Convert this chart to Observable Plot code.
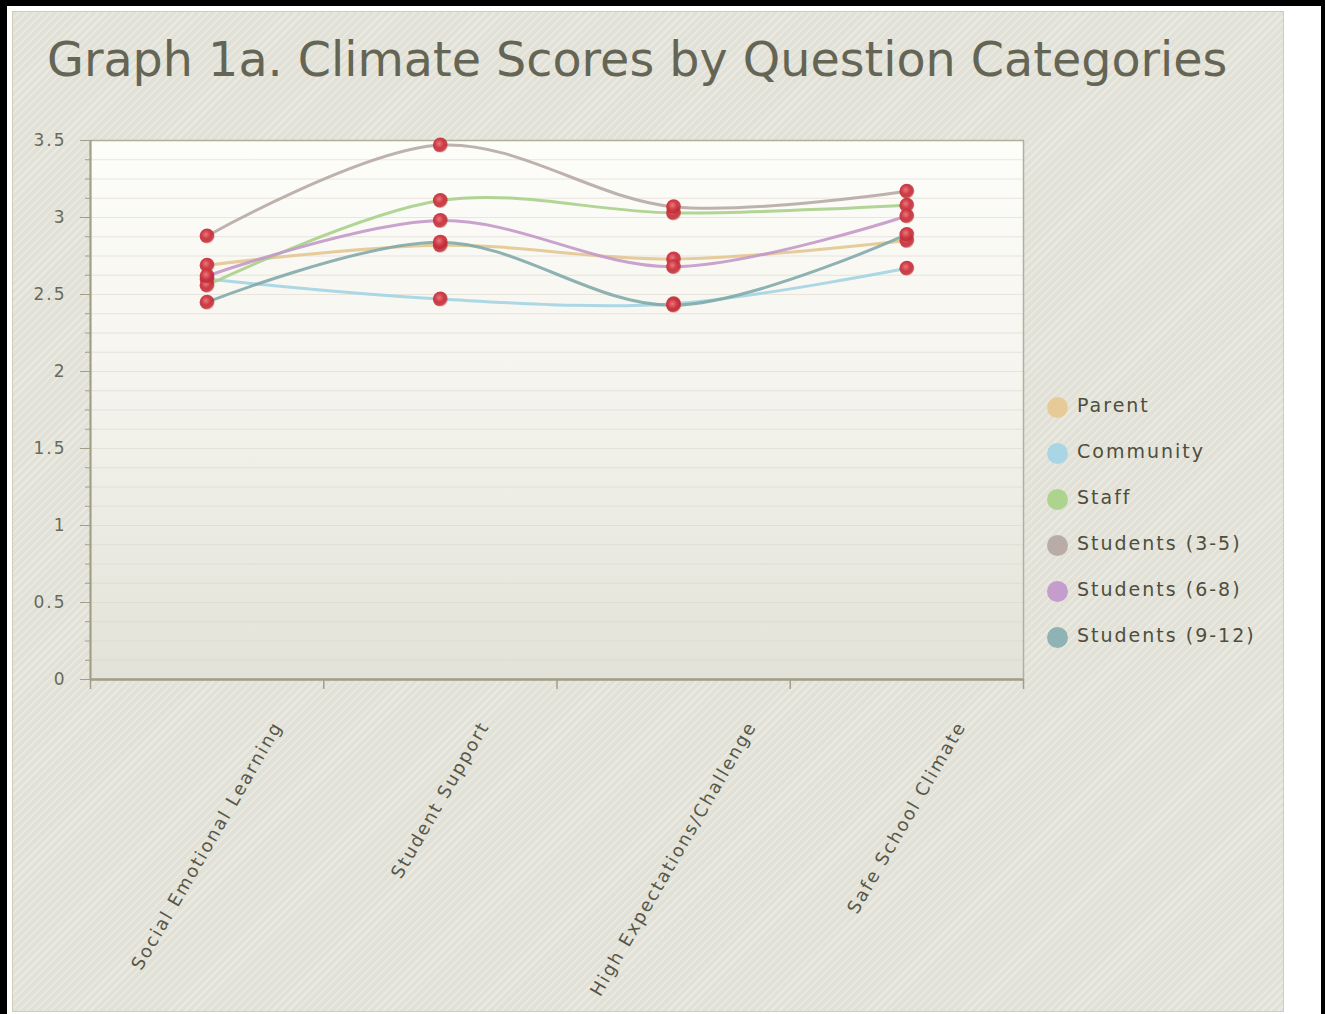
<!DOCTYPE html>
<html><head><meta charset="utf-8">
<script src="https://cdn.jsdelivr.net/npm/d3@7"></script>
<script src="https://cdn.jsdelivr.net/npm/@observablehq/plot@0.6"></script>
<style>
html,body{margin:0;padding:0;background:#fff;}
#page{position:relative;width:1325px;height:1014px;overflow:hidden;background:#fff;font-family:"DejaVu Sans",Verdana,sans-serif;}
.bk{position:absolute;background:#000;}
#panel{position:absolute;left:12px;top:11px;width:1270px;height:999px;border:1px solid #cfcdb8;background-color:#e1e1d7;
  background-image:repeating-linear-gradient(135deg,#e1e1d7 0px,#e1e1d7 4px,#eaeae2 4px,#eaeae2 5.6px);}
#title{position:absolute;left:47px;top:36px;font-size:47.6px;line-height:48px;color:#656555;white-space:nowrap;}
#chart{position:absolute;left:12px;top:100px;}
#legend{position:absolute;left:1046px;top:397px;}
.li{position:absolute;left:0;height:22px;white-space:nowrap;}
.sw{position:absolute;left:1px;top:0;width:21px;height:21px;border-radius:50%;}
.lt{position:absolute;left:31px;top:-1px;font-size:19px;line-height:19px;letter-spacing:2px;color:#4e4e3e;}
</style></head>
<body>
<div id="page">
  <div class="bk" style="left:0;top:0;width:1325px;height:6px"></div>
  <div class="bk" style="left:0;top:0;width:7px;height:1014px"></div>
  <div class="bk" style="left:1321px;top:0;width:4px;height:1014px"></div>
  <div id="panel"></div>
  <div id="title">Graph 1a. Climate Scores by Question Categories</div>
  <div id="chart"></div>
  <div id="legend"></div>
</div>
<script>
const categories = ["Social Emotional Learning", "Student Support", "High Expectations/Challenge", "Safe School Climate"];
const seriesNames = ["Parent", "Community", "Staff", "Students (3-5)", "Students (6-8)", "Students (9-12)"];
const parent      = [2.69, 2.82, 2.73, 2.85];
const community   = [2.60, 2.47, 2.44, 2.67];
const staff       = [2.56, 3.11, 3.03, 3.08];
const students35  = [2.88, 3.47, 3.07, 3.17];
const students68  = [2.62, 2.98, 2.68, 3.01];
const students912 = [2.45, 2.84, 2.43, 2.89];
const lineColors   = ["#e2c690", "#a3d3e3", "#a7d08a", "#b7aaa5", "#c398c9", "#82a9aa"];
const legendColors = ["#e6cb98", "#a9d5e5", "#acd48f", "#b9aca7", "#c59dcd", "#8fb2b4"];
const yTicks = [0, 0.5, 1, 1.5, 2, 2.5, 3, 3.5];

const seriesValues = [parent, community, staff, students35, students68, students912];
const rows = [];
seriesNames.forEach((s, si) => seriesValues[si].forEach((v, ci) => rows.push({series: s, xi: ci, value: v})));
const minorTicks = d3.range(0, 3.5001, 0.125);
const boundaries = d3.range(-0.5, categories.length, 1);

// measure labels for rotated placement
const cv = document.createElement("canvas").getContext("2d");
cv.font = "18px 'DejaVu Sans'";
const labelMarks = categories.map((c, i) => {
  const w = cv.measureText(c).width + 2 * c.length;
  const dy = 39 + (w / 2) * Math.sin(Math.PI / 3) + 9 * 0.5;
  return Plot.text([i], {x: d => d, text: d => categories[d], frameAnchor: "bottom", rotate: -60,
    textAnchor: "middle", lineAnchor: "middle", dy, fontSize: 18, fill: "#58584a"});
});

const svg = Plot.plot({
  width: 1030, height: 914,
  marginLeft: 78, marginRight: 19, marginTop: 40, marginBottom: 335,
  x: {type: "linear", domain: [-0.5, categories.length - 0.5], axis: null, label: null},
  y: {domain: [0, 3.5], axis: null, label: null},
  color: {domain: seriesNames, range: lineColors},
  style: {background: "transparent", fontFamily: "'DejaVu Sans', sans-serif", overflow: "visible", letterSpacing: "2px"},
  marks: [
    Plot.frame({fill: "url(#plotBg)", stroke: "none"}),
    Plot.gridY(minorTicks, {stroke: "#d9d6c8", strokeOpacity: 0.55, strokeWidth: 1}),
    Plot.frame({stroke: "#b3b09a", strokeWidth: 1.5}),
    Plot.axisY(minorTicks, {tickSize: 5, tickFormat: () => "", label: null, stroke: "#a29f88"}),
    Plot.axisY(yTicks, {tickSize: 10, tickPadding: 14, fontSize: 17, fill: "#6a6a5a", stroke: "#a29f88", label: null, tickFormat: d => String(d)}),
    Plot.ruleY([0], {stroke: "#a29f88", strokeWidth: 2.5}),
    Plot.ruleX([-0.5], {stroke: "#a29f88", strokeWidth: 2}),
    Plot.axisX(boundaries, {tickSize: 10, tickFormat: () => "", label: null, stroke: "#a29f88", strokeWidth: 1.5}),
    Plot.line(rows, {x: "xi", y: "value", z: "series", stroke: "series", curve: "catmull-rom", strokeWidth: 3, strokeOpacity: 0.9}),
    Plot.dot(rows, {x: "xi", y: "value", r: 7.5, fill: "url(#ball)", stroke: "none"}),
    ...labelMarks
  ]
});
svg.insertAdjacentHTML("afterbegin",
  `<defs>
    <linearGradient id="plotBg" x1="0" y1="0" x2="0" y2="1">
      <stop offset="0" stop-color="#fdfdfa"/>
      <stop offset="0.4" stop-color="#f6f5ef"/>
      <stop offset="1" stop-color="#e3e2d8"/>
    </linearGradient>
    <radialGradient id="ball" cx="0.42" cy="0.4" r="0.6">
      <stop offset="0" stop-color="#e8787e"/>
      <stop offset="0.5" stop-color="#cf3a44"/>
      <stop offset="0.85" stop-color="#bd2a33" stop-opacity="0.85"/>
      <stop offset="1" stop-color="#c4353d" stop-opacity="0.35"/>
    </radialGradient>
  </defs>`);
document.getElementById("chart").appendChild(svg);

const legend = document.getElementById("legend");
seriesNames.forEach((s, i) => {
  const item = document.createElement("div");
  item.className = "li";
  item.style.top = (i * 46) + "px";
  item.innerHTML = `<div class="sw" style="background:${legendColors[i]}"></div><div class="lt">${s}</div>`;
  legend.appendChild(item);
});
</script>
</body></html>
